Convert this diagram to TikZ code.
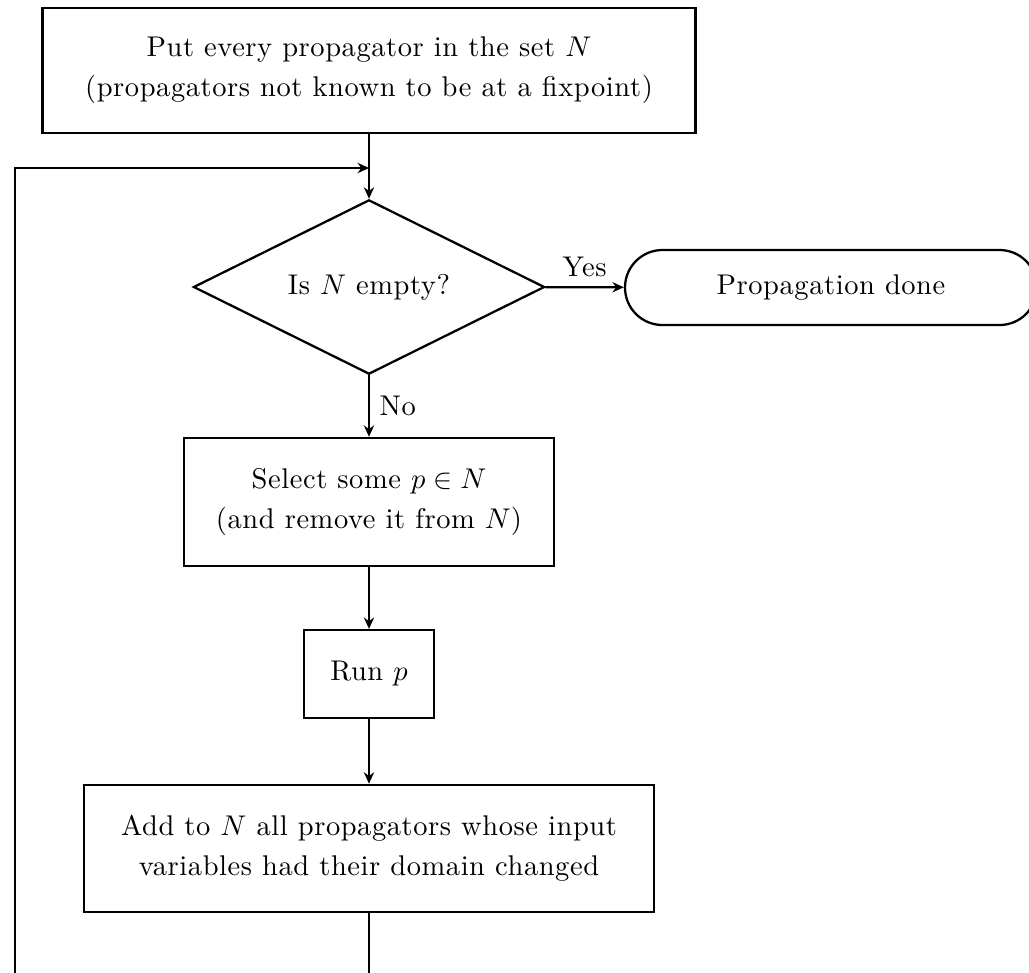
\documentclass[tikz,border=0pt]{standalone}
\usepackage{fontspec}
\setmainfont{lmroman10-regular.otf}[LetterSpace=2,
  ItalicFont=lmroman10-italic.otf, BoldFont=lmroman10-bold.otf]
\usetikzlibrary{shapes.geometric,shapes.misc,arrows.meta}

\begin{document}
\begin{tikzpicture}[x=1.233cm, y=-1.233cm, line width=0.8pt,
    >={Stealth[length=4pt,width=3.6pt]},
    font=\fontsize{10}{14}\selectfont,
    stepbox/.style={draw, rectangle, align=center, inner sep=0pt},
    testbox/.style={draw, diamond, aspect=2, align=center, inner sep=0pt},
    endbox/.style={draw, rounded rectangle, align=center, inner sep=0pt}]
  \useasboundingbox (0,0) rectangle (10.29,9.72);
  % nodes of the flow
  \node[stepbox, minimum width=8.05cm, minimum height=1.54cm] (start) at (3.69,0.705)
    {Put every propagator in the set $N$\\ (propagators not known to be at a fixpoint)};
  \node[testbox, minimum width=4.33cm, minimum height=2.15cm] (test) at (3.69,2.87)
    {Is $N$ empty?};
  \node[endbox, minimum width=5.08cm, minimum height=0.925cm] (done) at (8.31,2.875)
    {Propagation done};
  \node[stepbox, minimum width=4.56cm, minimum height=1.58cm] (select) at (3.69,5.02)
    {Select some $p \in N$\\ (and remove it from $N$)};
  \node[stepbox, minimum width=1.6cm, minimum height=1.085cm] (run) at (3.69,6.74)
    {Run $p$};
  \node[stepbox, minimum width=7.02cm, minimum height=1.57cm] (add) at (3.69,8.485)
    {Add to $N$ all propagators whose input\\ variables had their domain changed};
  \coordinate (join) at (3.69,1.68);
  \coordinate (back) at (0.15,10.2);
  % connectors
  \draw[->] (start) -- (test);
  \draw[->] (test) -- node[above] {Yes} (done);
  \draw[->] (test) -- node[right] {No} (select);
  \draw[->] (select) -- (run);
  \draw[->] (run) -- (add);
  \draw[->] (add.south) |- (back) |- (join);
\end{tikzpicture}
\end{document}
